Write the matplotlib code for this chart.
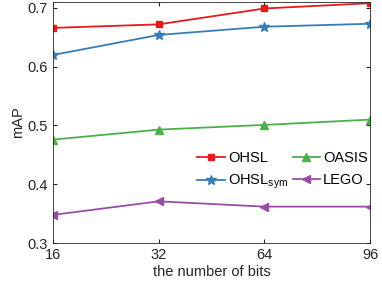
import matplotlib
matplotlib.use("Agg")
import matplotlib.pyplot as plt

plt.rcParams['font.family'] = ['Liberation Sans', 'DejaVu Sans']

bits = ['16', '32', '64', '96']
ohsl = [0.666, 0.672, 0.699, 0.708]
ohsl_sym = [0.620, 0.654, 0.668, 0.673]
oasis = [0.476, 0.493, 0.501, 0.510]
lego = [0.348, 0.371, 0.362, 0.362]

fig = plt.figure(figsize=(3.82, 2.87), dpi=100)
ax = fig.add_axes([0.139, 0.153, 0.830, 0.840])
x = list(range(len(bits)))
ax.plot(x, ohsl, color='#e41a1c', marker='s', ms=4.5, lw=1.3, label='OHSL')
ax.plot(x, ohsl_sym, color='#377eb8', marker='*', ms=7, lw=1.3, label='OHSL$_{\\mathregular{sym}}$')
ax.plot(x, oasis, color='#4daf4a', marker='^', ms=5.5, lw=1.3, label='OASIS')
ax.plot(x, lego, color='#984ea3', marker='<', ms=5.5, lw=1.3, label='LEGO')

ax.set_xlim(0, 3)
ax.set_ylim(0.3, 0.71)
ax.set_xticks(x)
ax.set_xticklabels(bits)
ax.set_yticks([0.3, 0.4, 0.5, 0.6, 0.7])
ax.set_yticklabels(['0.3', '0.4', '0.5', '0.6', '0.7'])
ax.tick_params(direction='in', top=True, right=True, labelsize=10.5, colors='#262626', length=3)
for s in ax.spines.values():
    s.set_color('#262626')
    s.set_linewidth(0.6)
ax.set_xlabel('the number of bits', fontsize=10.5, color='#262626', labelpad=2)
ax.set_ylabel('mAP', fontsize=10.5, color='#262626', labelpad=2)
ax.legend(ncol=2, frameon=False, fontsize=10.5, loc='upper left',
          bbox_to_anchor=(0.455, 0.383), borderaxespad=0, borderpad=0,
          handlelength=1.9, columnspacing=0.3,
          handletextpad=0.2, labelspacing=0.55)
fig.savefig('out.png', dpi=100)
